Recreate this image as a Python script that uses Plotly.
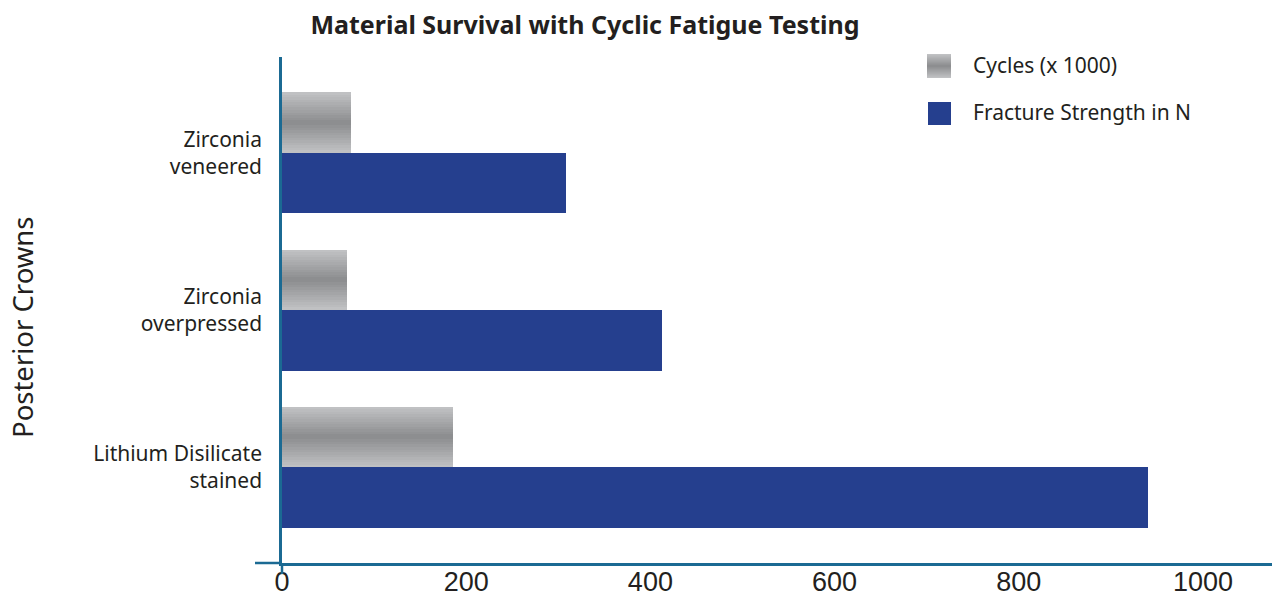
import plotly.graph_objects as go

# ---- data ----
categories = ["Lithium Disilicate<br>stained", "Zirconia<br>overpressed", "Zirconia<br>veneered"]
cycles_x1000 = [186, 71, 75]
fracture_strength = [940, 413, 308]
x_ticks = [0, 200, 400, 600, 800, 1000]
series_names = ["Cycles (x 1000)", "Fracture Strength in N"]

# ---- styling ----
W, H = 1272, 599
L, R, T, B = 282, 0, 57, 36
PW, PH = W - L - R, H - T - B
AXIS_COL = "#1b6a93"
BLUE = "#253f8e"
GRAY_LIGHT = (192, 193, 195)
GRAY_DARK = (141, 142, 144)
BAR_W = 0.385
TXT = "#231f20"
FONT = "Noto Sans"
NUM_FONT = "Liberation Sans"


def mix(t):
    return "rgb(%d,%d,%d)" % tuple(round(a + (b - a) * t) for a, b in zip(GRAY_LIGHT, GRAY_DARK))


def px_x(p):
    return (p - L) / PW


def px_y(p):
    return (H - B - p) / PH


fig = go.Figure()

# gray gradient bars (cycles) built from stacked overlay layers
N = 12
for k in range(N):
    w = BAR_W * (1 - k / N)
    fig.add_trace(go.Bar(
        orientation="h", y=categories, x=cycles_x1000,
        width=w, offset=BAR_W / 2 - w / 2,
        marker=dict(color=mix(k / (N - 1)), line=dict(width=0)),
        name=series_names[0], showlegend=False, hoverinfo="x",
    ))

fig.add_trace(go.Bar(
    orientation="h", y=categories, x=fracture_strength,
    width=BAR_W, offset=-BAR_W,
    marker=dict(color=BLUE, line=dict(width=0)),
    name=series_names[1], showlegend=False,
))

shapes = []
# axis extensions
shapes.append(dict(type="line", xref="paper", yref="paper", x0=px_x(255), x1=0, y0=0, y1=0,
                   line=dict(color=AXIS_COL, width=2.5)))
shapes.append(dict(type="line", xref="paper", yref="paper", x0=0, x1=0, y0=px_y(574), y1=0,
                   line=dict(color=AXIS_COL, width=2.5)))

# custom legend
lx0, lx1 = 927, 951
g_top, g_bot = 54, 78
n = 12
for k in range(n):
    h = (g_bot - g_top) * (1 - k / n)
    c = (g_top + g_bot) / 2
    shapes.append(dict(type="rect", xref="paper", yref="paper",
                       x0=px_x(lx0), x1=px_x(lx1), y0=px_y(c + h / 2), y1=px_y(c - h / 2),
                       fillcolor=mix(k / (n - 1)), line=dict(width=0), layer="above"))
shapes.append(dict(type="rect", xref="paper", yref="paper",
                   x0=px_x(928), x1=px_x(951), y0=px_y(125), y1=px_y(102),
                   fillcolor=BLUE, line=dict(width=0)))

annotations = [
    dict(text=series_names[0], xref="paper", yref="paper", x=px_x(971), y=px_y(65),
         xanchor="left", yanchor="middle", showarrow=False,
         font=dict(family=FONT, size=21, color=TXT)),
    dict(text=series_names[1], xref="paper", yref="paper", x=px_x(971), y=px_y(112),
         xanchor="left", yanchor="middle", showarrow=False,
         font=dict(family=FONT, size=21, color=TXT)),
    dict(text="Posterior Crowns", xref="paper", yref="paper", x=px_x(22), y=px_y(327),
         xanchor="center", yanchor="middle", textangle=-90, showarrow=False,
         font=dict(family=FONT, size=27.5, color=TXT)),
]

fig.update_layout(
    width=W, height=H,
    margin=dict(l=L, r=R, t=T, b=B, pad=0, autoexpand=False),
    paper_bgcolor="white", plot_bgcolor="white",
    barmode="overlay", bargap=0,
    title=dict(text="<b>Material Survival with Cyclic Fatigue Testing</b>",
               x=585 / W, xanchor="center", y=1 - 25 / H, yanchor="middle",
               font=dict(family=FONT, size=25, color=TXT), automargin=False),
    xaxis=dict(range=[0, (W - L - R) / 0.921], tickvals=x_ticks, automargin=False,
               showgrid=False, zeroline=False, showline=True, linecolor=AXIS_COL, linewidth=2.5,
               ticks="", ticklabelstandoff=-7,
               tickfont=dict(family=NUM_FONT, size=27, color=TXT), fixedrange=True),
    yaxis=dict(range=[-0.61, 2.61], categoryorder="array", categoryarray=categories,
               automargin=False,
               showgrid=False, zeroline=False, showline=True, linecolor=AXIS_COL, linewidth=2.5,
               ticks="", ticklabelstandoff=13,
               tickfont=dict(family=FONT, size=21, color=TXT), fixedrange=True),
    shapes=shapes, annotations=annotations,
    showlegend=False,
)

fig.write_html("out.html", config={"displayModeBar": False},
               post_script="document.body.style.margin='0';document.body.style.overflow='hidden';")
